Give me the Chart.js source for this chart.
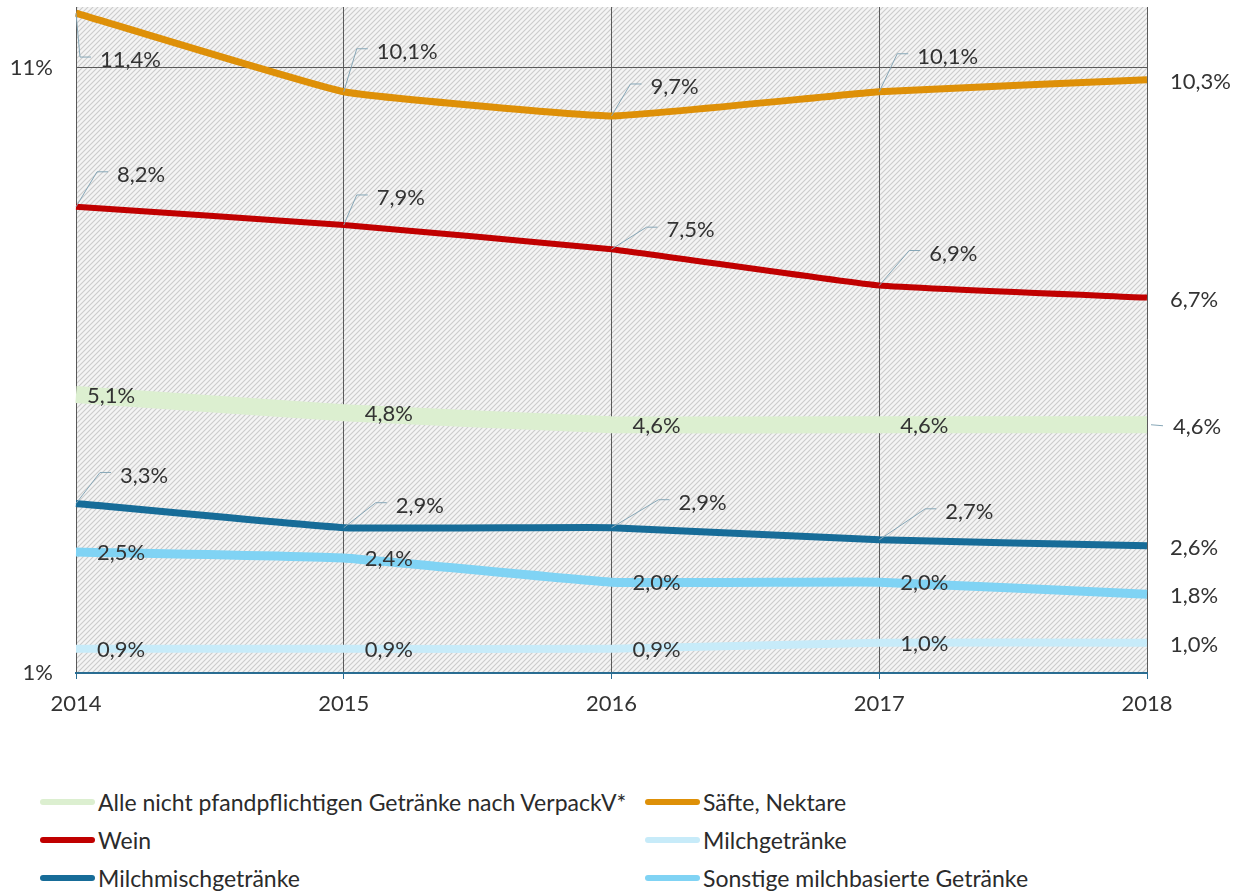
<!DOCTYPE html>
<html lang="de">
  <head>
    <meta charset="utf-8" />
    <title>Anteile nicht pfandpflichtiger Getränke 2014–2018</title>
    <script src="https://cdn.jsdelivr.net/npm/chart.js@4.4.0/dist/chart.umd.min.js"></script>
    <style>
      body {
        margin: 0;
        background: #fff;
        font-family: Lato, "Noto Sans", sans-serif;
        width: 1243px;
        height: 895px;
        overflow: hidden;
        position: relative;
      }
      #chartWrapper {
        position: absolute;
        left: 0;
        top: 0;
      }
      #legend {
        position: absolute;
        left: 40px;
        top: 788px;
        display: grid;
        grid-template-columns: 605px 500px;
        row-gap: 10px;
        font-size: 23px;
        color: #2b2b2b;
      }
      .item {
        display: flex;
        align-items: center;
        height: 28px;
      }
      .swatch {
        width: 55px;
        height: 6px;
        border-radius: 3px;
        margin-right: 3px;
      }
    </style>
  </head>
  <body>
    <div id="chartWrapper">
      <canvas id="chart" width="1243" height="740"></canvas>
    </div>
    <div id="legend"></div>

    <script>
      // --------------- Daten ------------------------------------------------
      const years = ["2014", "2015", "2016", "2017", "2018"];
      const alleNichtPfand = [5.1, 4.8, 4.6, 4.6, 4.6];
      const saefteNektare = [11.4, 10.1, 9.7, 10.1, 10.3];
      const wein = [8.2, 7.9, 7.5, 6.9, 6.7];
      const milchgetraenke = [0.9, 0.9, 0.9, 1.0, 1.0];
      const milchmisch = [3.3, 2.9, 2.9, 2.7, 2.6];
      const sonstigeMilch = [2.5, 2.4, 2.0, 2.0, 1.8];

      // Achsbeschriftung links, so wie im Original gesetzt
      const yTickValues = [0.5, 10.5];
      const yTickLabels = ["1%", "11%"];

      // --------------- Beschriftungs-Layout (Versatz in px) -----------------
      // leader: [dx, dy] zum Knick der Hinweislinie, inline: dx neben Punkt
      const labelLayout = [
        { type: "inline", dx: [11, 21, 21, 21], endDash: true },
        { type: "leader", off: [[4, 44], [13, -43], [19, -32], [18, -38]] },
        { type: "leader", off: [[21, -35], [13, -30], [35, -22], [30, -35]] },
        { type: "inline", dx: [21, 21, 21, 21] },
        { type: "leader", off: [[24, -31], [32, -25], [47, -28], [46, -31]] },
        { type: "inline", dx: [21, 21, 21, 21] },
      ];

      const fmt = (v) => v.toFixed(1).replace(".", ",") + "%";

      // --------------- Plugins ----------------------------------------------
      function makeHatch() {
        const c = document.createElement("canvas");
        c.width = 5;
        c.height = 5;
        const g = c.getContext("2d");
        g.fillStyle = "#f4f4f4";
        g.fillRect(0, 0, 5, 5);
        g.strokeStyle = "#cbcbcb";
        g.lineWidth = 1.1;
        g.beginPath();
        g.moveTo(-1, 6);
        g.lineTo(6, -1);
        g.moveTo(-1, 1);
        g.lineTo(1, -1);
        g.moveTo(4, 6);
        g.lineTo(6, 4);
        g.stroke();
        return g.createPattern(c, "repeat");
      }

      const hatchBackground = {
        id: "hatchBackground",
        beforeDraw(chart) {
          const { ctx, chartArea: a } = chart;
          ctx.save();
          ctx.fillStyle = makeHatch();
          ctx.fillRect(a.left, a.top, a.right - a.left, a.bottom - a.top);
          ctx.restore();
        },
      };

      const valueLabels = {
        id: "valueLabels",
        afterDatasetsDraw(chart) {
          const { ctx, chartArea: a } = chart;
          ctx.save();
          ctx.font = "22px Lato";
          ctx.fillStyle = "#333333";
          ctx.textBaseline = "middle";
          ctx.strokeStyle = "#87a7b7";
          ctx.lineWidth = 1;
          chart.data.datasets.forEach((ds, di) => {
            const meta = chart.getDatasetMeta(di);
            const lay = labelLayout[di];
            meta.data.forEach((pt, i) => {
              const text = fmt(ds.data[i]);
              if (i === meta.data.length - 1) {
                if (lay.endDash) {
                  ctx.beginPath();
                  ctx.moveTo(a.right + 4, pt.y);
                  ctx.lineTo(a.right + 16, pt.y + 1);
                  ctx.stroke();
                  ctx.fillText(text, a.right + 26, pt.y + 2);
                } else {
                  ctx.fillText(text, a.right + 23, pt.y + 2);
                }
                return;
              }
              if (lay.type === "inline") {
                ctx.fillText(text, pt.x + lay.dx[i], pt.y + 1);
              } else {
                const [dx, dy] = lay.off[i];
                const kx = pt.x + dx;
                const ky = pt.y + dy;
                ctx.beginPath();
                ctx.moveTo(pt.x, pt.y);
                ctx.lineTo(kx, ky);
                ctx.lineTo(kx + 11, ky);
                ctx.stroke();
                ctx.fillText(text, kx + 20, ky + 3);
              }
            });
          });
          ctx.restore();
        },
      };

      // --------------- Diagramm ---------------------------------------------
      const line = (label, data, color, width) => ({
        label,
        data,
        borderColor: color,
        backgroundColor: color,
        borderWidth: width,
        pointRadius: 0,
        tension: 0.1,
        clip: false,
      });

      const chart = new Chart(document.getElementById("chart"), {
        type: "line",
        data: {
          labels: years,
          datasets: [
            line("Alle nicht pfandpflichtigen Getränke nach VerpackV*", alleNichtPfand, "#dcefd0", 17),
            line("Säfte, Nektare", saefteNektare, "#de9008", 7),
            line("Wein", wein, "#c00000", 6),
            line("Milchgetränke", milchgetraenke, "#c7ebf9", 8),
            line("Milchmischgetränke", milchmisch, "#176c98", 7),
            line("Sonstige milchbasierte Getränke", sonstigeMilch, "#80d3f4", 9),
          ],
        },
        options: {
          responsive: false,
          animation: false,
          layout: { padding: { top: 7, right: 96, left: 0, bottom: 0 } },
          plugins: {
            legend: { display: false },
            tooltip: { enabled: false },
          },
          scales: {
            x: {
              offset: false,
              afterFit: (s) => {
                s.height = 67;
              },
              grid: {
                color: "#5a5a5a",
                lineWidth: 1,
                tickLength: 6,
                tickColor: "#2a6d92",
              },
              border: { color: "#2a6d92", width: 2 },
              ticks: {
                color: "#333333",
                font: { family: "Lato", size: 22 },
                padding: 12,
                maxRotation: 0,
              },
            },
            y: {
              min: 0.5,
              max: 11.5,
              afterFit: (s) => {
                s.width = 76;
                s.paddingTop = 0;
                s.paddingBottom = 0;
              },
              afterBuildTicks: (s) => {
                s.ticks = yTickValues.map((v) => ({ value: v }));
              },
              grid: {
                drawTicks: false,
                color: (c) => (c.tick && c.tick.value === yTickValues[1] ? "#5a5a5a" : "rgba(0,0,0,0)"),
              },
              border: { display: false },
              ticks: {
                color: "#333333",
                font: { family: "Lato", size: 22 },
                padding: 23,
                callback: (v) => yTickLabels[yTickValues.indexOf(v)],
              },
            },
          },
        },
        plugins: [hatchBackground, valueLabels],
      });

      // --------------- Legende (zweispaltig) --------------------------------
      const legend = document.getElementById("legend");
      chart.data.datasets.forEach((ds) => {
        const item = document.createElement("div");
        item.className = "item";
        const sw = document.createElement("span");
        sw.className = "swatch";
        sw.style.background = ds.borderColor;
        const tx = document.createElement("span");
        tx.textContent = ds.label;
        item.appendChild(sw);
        item.appendChild(tx);
        legend.appendChild(item);
      });
    </script>
  </body>
</html>
